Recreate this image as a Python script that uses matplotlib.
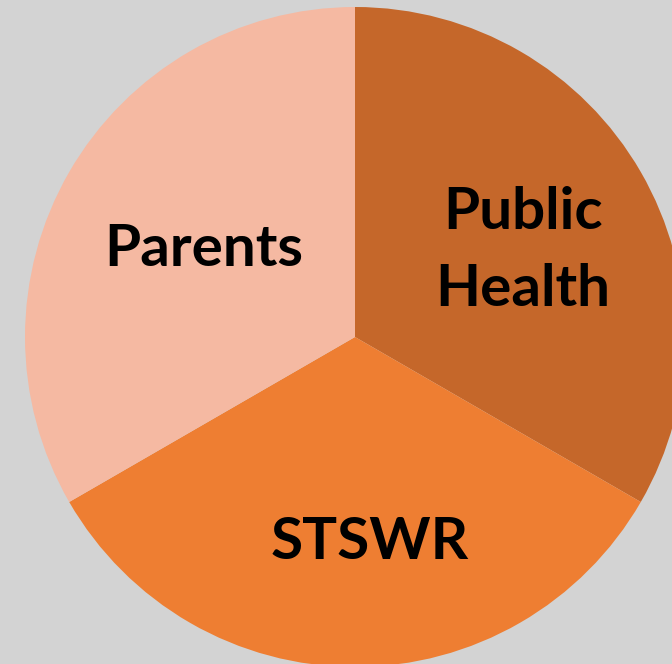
import numpy as np
import matplotlib.pyplot as plt

# slice data (equal thirds, clockwise from top)
labels = ["Public\nHealth", "STSWR", "Parents"]
shares = [1, 1, 1]
colors = ["#C5672A", "#EE7E32", "#F5B9A2"]
# label placement: radial fraction of the radius, plus small nudges (px)
label_r = [0.57, 0.61, 0.53]
label_dx = [5, 15, 0]
label_dy = [-8, -4, 0]

fig = plt.figure(figsize=(6.72, 6.64), dpi=100)
fig.patch.set_facecolor("#D3D3D3")
ax = fig.add_axes([0, 0, 1, 1])
ax.set_facecolor("#D3D3D3")

cx, cy, R = 355, 327, 330
wedges, _ = ax.pie(shares, colors=colors, startangle=90, counterclock=False,
                   center=(cx, cy), radius=R,
                   wedgeprops={"linewidth": 0})

for w, lab, r, dx, dy in zip(wedges, labels, label_r, label_dx, label_dy):
    ang = np.deg2rad((w.theta1 + w.theta2) / 2)
    ax.text(cx + r * R * np.cos(ang) + dx, cy + r * R * np.sin(ang) + dy, lab,
            ha="center", va="center", fontsize=42, fontweight="bold",
            family="Lato", linespacing=1.55, color="black")

ax.set_xlim(0, 672)
ax.set_ylim(0, 664)
ax.set_aspect("equal")
ax.axis("off")

fig.savefig("out.png", dpi=100, facecolor=fig.get_facecolor())
